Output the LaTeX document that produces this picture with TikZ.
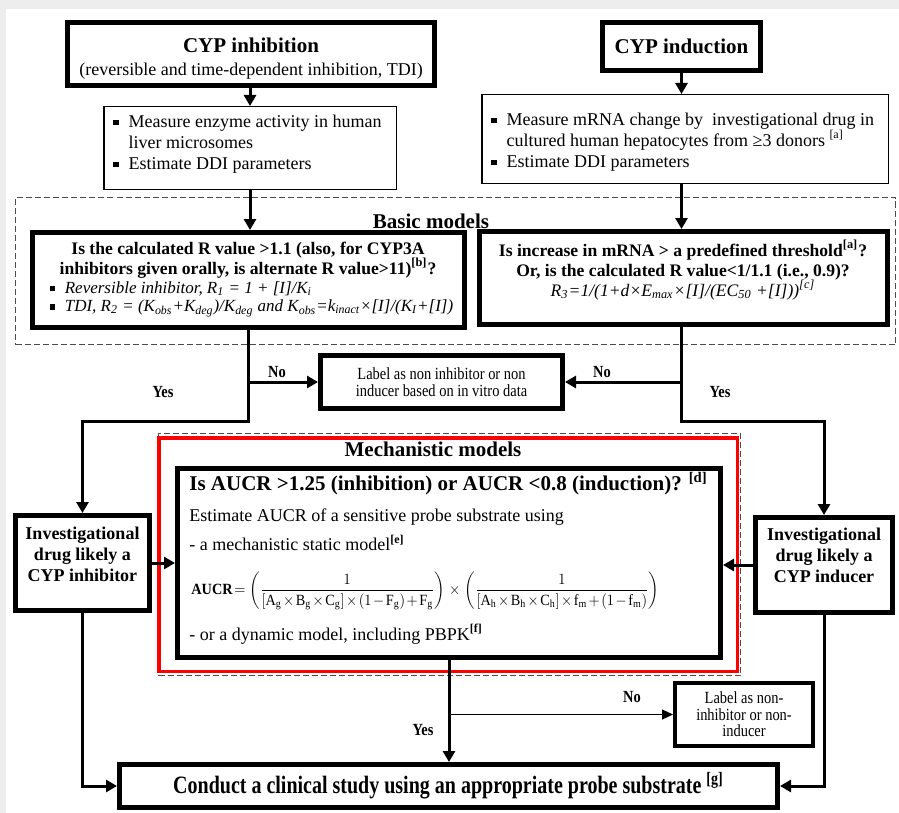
\documentclass[tikz,border=0pt]{standalone}
\usepackage{amsmath}
\usepackage{graphicx}
\usepackage{fontspec}
\setmainfont{Liberation Serif}
\newfontfamily\narrowrm[FakeStretch=0.85]{Liberation Serif}
\newfontfamily\condrm[FakeStretch=0.8]{Liberation Serif}
\usetikzlibrary{arrows.meta}
\newcommand{\bul}{\raisebox{0.25ex}{\rule{0.3em}{0.3em}}\hspace{0.55em}}
\newcommand{\bulsp}{\hphantom{\rule{0.3em}{0.3em}}\hspace{0.55em}}
\newcommand{\sqs}[1]{\textsuperscript{[#1]}}
\newcommand{\sbs}[1]{\textsubscript{#1}}
\newcommand{\tms}{\mkern2mu{\times}\mkern2mu}
\tikzset{
  bx/.style 2 args={minimum width=#1*0.5pt, minimum height=#2*0.5pt},
  thickbox/.style={draw, line width=2.5pt, fill=white, inner sep=0pt},
  midbox/.style={draw, line width=2pt, fill=white, inner sep=0pt},
  thinbox/.style={draw, line width=0.75pt, fill=white, inner sep=0pt},
  redbox/.style={draw=red, line width=1.75pt, inner sep=0pt},
  dashbox/.style={draw=black!70, line width=0.5pt, dash pattern=on 3pt off 1.5pt, inner sep=0pt},
  txt/.style={inner sep=0pt, font=\fontsize{9}{10.5}\selectfont},
  btxt/.style={inner sep=0pt, font=\fontsize{8.8}{10}\selectfont\bfseries},
  head/.style={inner sep=0pt, font=\fontsize{10.5}{12}\selectfont\bfseries},
  yn/.style={inner sep=0pt, font=\fontsize{8.5}{9}\selectfont\narrowrm\bfseries},
  conn/.style={line width=1.5pt, -{Triangle[length=5.5pt,width=6pt]}},
  thinconn/.style={line width=0.6pt, -{Triangle[length=5.5pt,width=5pt]}},
}
\begin{document}
\begin{tikzpicture}[x=0.5pt, y=-0.5pt]
\useasboundingbox (0,0) rectangle (899,813);
\fill[white] (0,0) rectangle (899,813);
\fill[black!7] (0,0) rectangle (899,9);
\fill[black!7] (0,0) rectangle (6,813);

% dashed model frames
\node[dashbox, bx={880}{147}] (basic) at (455.5,271) {};
\node[head] (basicT) at (431,221) {Basic models};
\node[dashbox, bx={582}{242}] (mechframe) at (449.5,554.5) {};
\node[redbox, bx={578.5}{233.5}] (red) at (448,554.5) {};
\node[head] (mechT) at (433,449) {Mechanistic models};

% top boxes
\node[thickbox, bx={367}{63}] (inh) at (251,54) {};
\node[head] (inhT1) at (251,45) {CYP inhibition};
\node[txt] (inhT2) at (251,71) {(reversible and time-dependent inhibition, TDI)};

\node[thickbox, bx={158}{48}, head] (ind) at (681.5,46.5) {CYP induction};

\node[thinbox, bx={292.5}{82.5}] (meas1) at (250,148) {};
\node[txt, anchor=west, align=left] (meas1T) at (113,144) {\bul Measure enzyme activity in human\\ \bulsp liver microsomes\\ \bul Estimate DDI parameters};

\node[thinbox, bx={406.5}{88.5}] (meas2) at (685,139) {};
\node[txt, anchor=west, align=left] (meas2T) at (491,142) {\bul Measure mRNA change by\ \ investigational drug in\\ \bulsp cultured human hepatocytes from ≥3 donors \sqs{a}\\ \bul Estimate DDI parameters};

% basic model questions
\node[thickbox, bx={432}{95}] (q1) at (248.5,280) {};
\node[btxt, align=center] (q1T) at (248,260) {Is the calculated R value >1.1 (also, for CYP3A\\ inhibitors given orally, is alternate R value>11)\sqs{b}?};
\node[txt, anchor=west, align=left, font=\fontsize{8.5}{9.2}\selectfont\itshape] (q1I) at (50,299) {\bul Reversible inhibitor, R\sbs{1} = 1 + [I]/K\sbs{i}\\ \bul TDI, R\sbs{2} = (K\sbs{obs}+K\sbs{deg})/K\sbs{deg} and K\sbs{obs}=k\sbs{inact}×[I]/(K\sbs{I}+[I])};

\node[thickbox, bx={408}{93}] (q2) at (683.5,278) {};
\node[btxt, align=center] (q2T) at (683,270) {Is increase in mRNA > a predefined threshold\sqs{a}?\\ Or, is the calculated R value<1/1.1 (i.e., 0.9)?\\ \mdseries\itshape R\sbs{3}=1/(1+d×E\sbs{max}×[I]/(EC\sbs{50} +[I]))\sqs{c}};

% label box (no)
\node[thickbox, bx={242}{53}, align=center, font=\fontsize{8.5}{8.6}\selectfont\narrowrm] (lab1) at (441.5,382) {Label as non inhibitor or non\\ inducer based on in vitro data};

% side boxes
\node[thickbox, bx={134}{95}] (invinh) at (82.5,563) {};
\node[btxt, align=center, font=\fontsize{9}{10.5}\selectfont\bfseries] (invinhT) at (82.5,554) {Investigational\\ drug likely a\\ CYP inhibitor};
\node[thickbox, bx={137}{95}] (invind) at (824,565) {};
\node[btxt, align=center, font=\fontsize{9}{10.5}\selectfont\bfseries] (invindT) at (824,555) {Investigational\\ drug likely a\\ CYP inducer};

% mechanistic box
\node[thickbox, bx={543}{189}] (mech) at (449,563) {};
\node[head, anchor=west] (m1) at (189,484) {Is AUCR >1.25 (inhibition) or AUCR <0.8 (induction)? \sqs{d}};
\node[txt, anchor=west] (m2) at (189,517) {Estimate AUCR of a sensitive probe substrate using};
\node[txt, anchor=west] (m3) at (189,543) {- a mechanistic static model\textbf{\sqs{e}}};
\node[inner sep=0pt, anchor=west] (m4) at (191,591) {\resizebox*{234pt}{19pt}{$\mathbf{AUCR}\mkern2mu{=}\mkern2mu\left(\dfrac{1}{[\mathrm{A_g}\tms\mathrm{B_g}\tms\mathrm{C_g}]\tms(1\mkern2mu{-}\mkern2mu\mathrm{F_g})\mkern2mu{+}\mkern2mu\mathrm{F_g}}\right)\tms\left(\dfrac{1}{[\mathrm{A_h}\tms\mathrm{B_h}\tms\mathrm{C_h}]\tms\mathrm{f_m}\mkern2mu{+}\mkern2mu(1\mkern2mu{-}\mkern2mu\mathrm{f_m})}\right)$}};
\node[txt, anchor=west] (m5) at (189,634) {- or a dynamic model, including PBPK\textbf{\sqs{f}}};

% lower boxes
\node[midbox, bx={138}{63}, align=center, font=\fontsize{8.5}{8.3}\selectfont\narrowrm] (lab2) at (744,714.5) {Label as non-\\ inhibitor or non-\\ inducer};
\node[thickbox, bx={658}{43}, font=\fontsize{12.5}{13}\selectfont\condrm\bfseries] (conduct) at (448.5,786) {Conduct a clinical study using an appropriate probe substrate \sqs{g}};

% junctions
\coordinate (jL) at (248,421);
\coordinate (jR) at (681,421);

% connectors
\draw[conn] (meas1.north |- inh.south) -- (meas1.north);
\draw[conn] (meas1.south) -- (meas1.south |- q1.north);
\draw[conn] (ind.south) -- (ind.south |- meas2.north);
\draw[conn] (ind.south |- meas2.south) -- (ind.south |- q2.north);
\draw[conn] (jL |- q1.south) -- (jL) -| (invinh.north);
\draw[conn] (jL |- lab1.west) -- (lab1.west);
\draw[conn] (jR |- q2.south) -- (jR) -| (invind.north);
\draw[conn] (jR |- lab1.east) -- (lab1.east);
\draw[conn] (invinh.east) -- (mech.west);
\draw[conn] (invind.west) -- (invind.west -| mech.east);
\draw[conn] (mech.south) -- (mech.south |- conduct.north);
\draw[thinconn] (mech.south |- lab2.west) -- (lab2.west);
\draw[conn] (invinh.south) |- (conduct.west);
\draw[conn] (invind.south) |- (conduct.east);

% yes / no labels
\node[yn] (noL) at (277,372) {No};
\node[yn] (noR) at (602,372) {No};
\node[yn] (yesL) at (163,392) {Yes};
\node[yn] (yesR) at (720,392) {Yes};
\node[yn] (noB) at (632,697) {No};
\node[yn] (yesB) at (423,730) {Yes};
\end{tikzpicture}
\end{document}
